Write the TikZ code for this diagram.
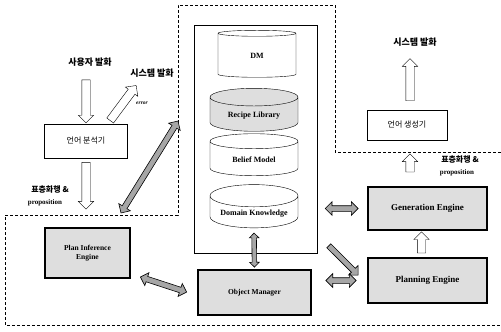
\documentclass[tikz,border=0pt]{standalone}
\usepackage{fontspec}
\setmainfont{Liberation Serif}
\newfontfamily\kr{Noto Sans CJK KR}
\usepackage{tikz}
\usetikzlibrary{shapes.geometric, shapes.arrows, calc, positioning}
\tikzstyle{module} = [rectangle, draw=black, text centered, font=\kr\fontsize{8}{9}\selectfont]
\tikzstyle{engine} = [rectangle, draw=black, line width=1.8pt, fill=black!13, text centered, align=center, font=\bfseries\fontsize{9}{10}\selectfont]
\tikzstyle{store} = [cylinder, shape border rotate=90, aspect=0.3, draw=black, minimum width=88pt, text centered, font=\bfseries\fontsize{8}{9}\selectfont]
\tikzstyle{speech} = [font=\kr\bfseries\fontsize{9}{10}\selectfont]
\tikzstyle{prop} = [font=\bfseries\fontsize{7}{8}\selectfont]
\tikzstyle{boundary} = [densely dashed, thin]
\tikzset{
  gapa/.store in=\gapa, gapa=3pt,
  gapb/.store in=\gapb, gapb=3pt,
  openhead/.style={single arrow, draw=black, fill=white, inner xsep=0pt, inner ysep=4pt, single arrow head extend=3.5pt},
  greyboth/.style={double arrow, draw=black, semithick, fill=black!35, inner xsep=0pt, inner ysep=2.5pt, double arrow head extend=4pt},
  greyone/.style={single arrow, draw=black, semithick, fill=black!35, inner xsep=0pt, inner ysep=2.5pt, single arrow head extend=4pt},
  fatarrow/.style={to path={let \p1=($(\tikztostart)!\gapa!(\tikztotarget)$), \p2=($(\tikztotarget)!\gapb!(\tikztostart)$), \n1={atan2(\y2-\y1,\x2-\x1)}, \n2={veclen(\x2-\x1,\y2-\y1)} in node[#1, minimum height=\n2, rotate=\n1] at ($(\p1)!.5!(\p2)$) {}}}
}
\begin{document}
\begin{tikzpicture}[x=1pt, y=-1pt, node distance=46pt]
\useasboundingbox (0,0) rectangle (501,332);
% Boundary
\draw [boundary] (501,152) -- (335,152) -- (335,5) -- (178,5) -- (178,215) -- (5,215) -- (5,325) -- (501,325);
\coordinate (knl) at (178,121);
\coordinate (knr) at (121,213);
\coordinate (anaout) at (86,207);
\coordinate (genout) at (410,156);

% Knowledge
\node (kbox) [draw=black, minimum width=123pt, minimum height=228pt] at (255.5,139) {};
\node (dm) [store, minimum width=78pt, minimum height=47pt] at (257,56) {DM};
\node (rl) [store, fill=black!13, minimum height=43pt, below of=dm, xshift=-3pt, yshift=-14pt] {Recipe Library};
\node (bm) [store, minimum height=42pt, below of=rl, yshift=2pt] {Belief Model};
\node (dk) [store, minimum height=36pt, below of=bm, yshift=-8pt] {Domain Knowledge};

% Analysis side
\node (usr) [speech] at (90,62) {사용자 발화};
\node (la) [module, minimum width=83pt, minimum height=34pt] at (86,141) {언어 분석기};
\node (sysl) [speech] at (152,73) {시스템 발화};
\node (err) [font=\bfseries\itshape\fontsize{5.5}{6}\selectfont] at (142,103) {error};
\node (act1) [speech, font=\kr\bfseries\fontsize{8}{9}\selectfont] at (50,190) {표층화행 \&};
\node (prop1) [prop] at (45,203) {proposition};

% Engines
\node (pie) [engine, minimum width=85pt, minimum height=50pt, font=\bfseries\fontsize{7.5}{8.5}\selectfont] at (87.5,253) {Plan Inference\\Engine};
\node (om) [engine, minimum width=113pt, minimum height=45pt, font=\bfseries\fontsize{7.5}{8.5}\selectfont] at (254.5,292.5) {Object Manager};
\node (gen) [engine, minimum width=119pt, minimum height=43pt] at (427.5,208.5) {Generation Engine};
\node (plan) [engine, minimum width=119pt, minimum height=45pt, below of=gen, yshift=-26pt] {Planning Engine};

% Generation side
\node (lg) [module, minimum width=80pt, minimum height=30pt] at (407,125) {언어 생성기};
\node (sysr) [speech] at (415,42) {시스템 발화};
\node (act2) [speech, font=\kr\bfseries\fontsize{8}{9}\selectfont] at (460,160) {표층화행 \&};
\node (prop2) [prop] at (457,173) {proposition};

% Arrows
\draw (usr.south -| la.north) to[fatarrow=openhead, gapa=8pt, gapb=3pt] (la.north);
\draw (la.south) to[fatarrow=openhead, gapa=2pt, gapb=0pt] (anaout);
\draw ([xshift=-20pt]la.north east) to[fatarrow=openhead, gapa=2pt, gapb=8pt] ([xshift=13pt]sysl.south west);
\draw (knr) to[fatarrow=greyboth, gapa=0pt, gapb=0pt] (knl);
\draw ([yshift=5pt]pie.south east) to[fatarrow=greyboth, gapa=10pt, gapb=11pt] ([yshift=-3pt]om.west);
\draw (dk.south) to[fatarrow={greyboth, inner ysep=2pt, double arrow head extend=2.5pt}, gapa=5pt, gapb=2pt] (om.north);
\draw (kbox.east |- gen.west) to[fatarrow=greyboth, gapa=8pt, gapb=9pt] (gen.west);
\draw ([yshift=19pt]kbox.south east) to[fatarrow=greyone, gapa=15pt, gapb=14pt] ([yshift=-3.5pt]plan.west);
\draw (om.east |- plan.west) to[fatarrow=greyboth, gapa=14pt, gapb=11pt] (plan.west);
\draw ([xshift=-6pt]plan.north) to[fatarrow=openhead, gapa=2pt, gapb=3pt] ([xshift=-6pt]gen.south);
\draw ([xshift=-17.5pt]gen.north) to[fatarrow=openhead, gapa=12pt, gapb=0pt] (genout);
\draw ([xshift=3pt]lg.north) to[fatarrow=openhead, gapa=7pt, gapb=11pt] ([xshift=3pt]lg.north |- sysr.south);
\end{tikzpicture}
\end{document}
